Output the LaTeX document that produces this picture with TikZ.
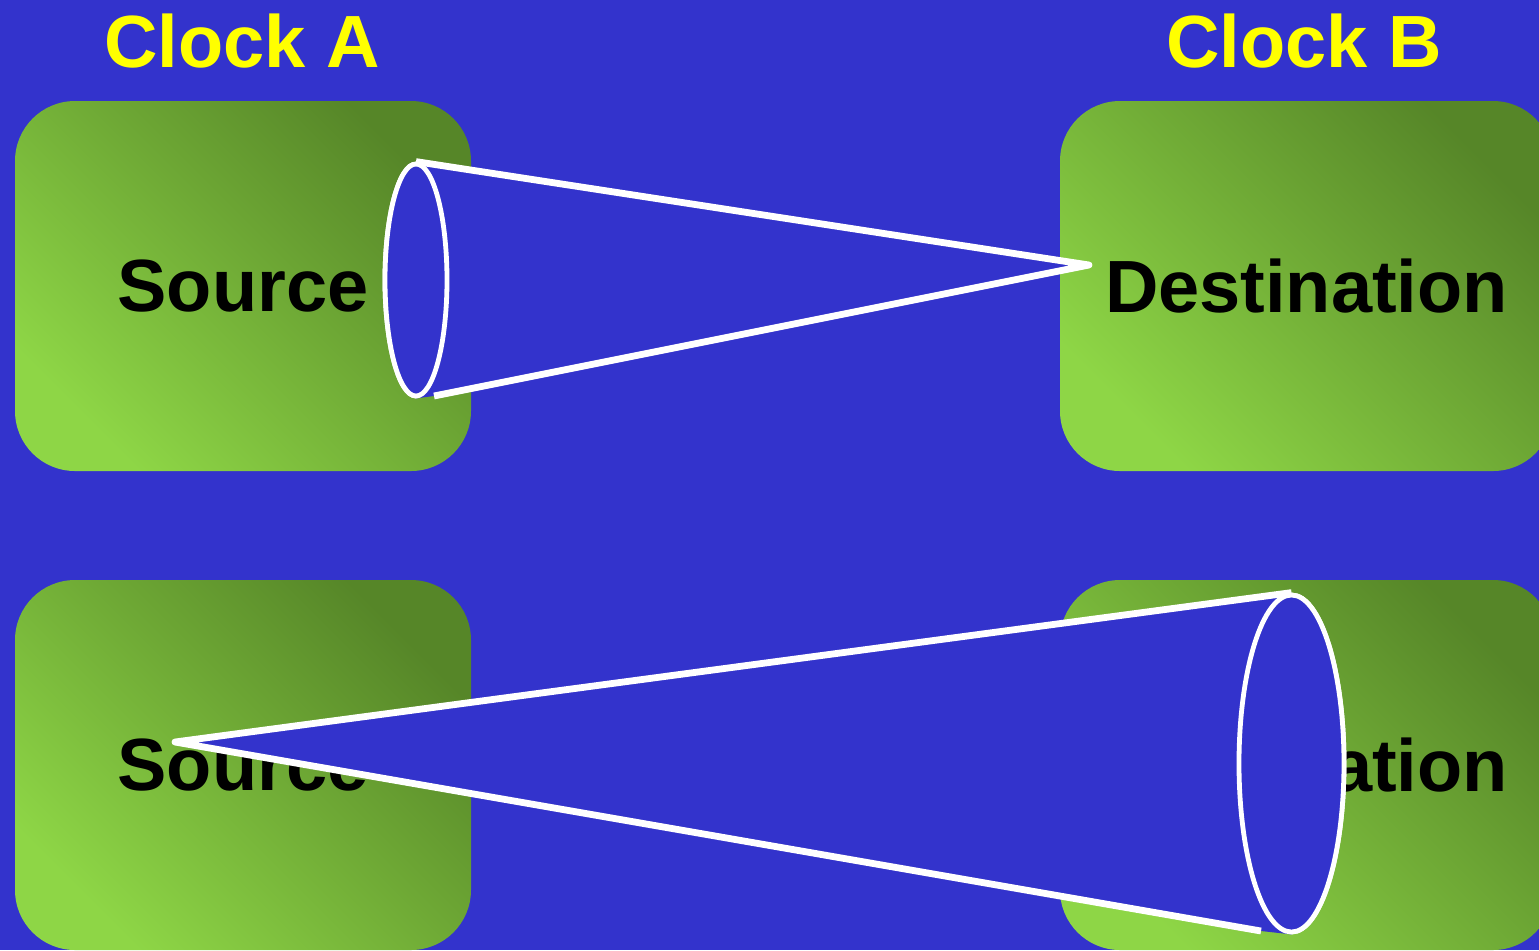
\documentclass[tikz,border=0pt]{standalone}
\usepackage{fontspec}
\setmainfont{Liberation Sans}
\usetikzlibrary{shapes.geometric}
\definecolor{bg}{RGB}{51,51,204}
\definecolor{gdark}{RGB}{86,134,40}
\definecolor{glight}{RGB}{142,214,70}
\definecolor{clk}{RGB}{255,255,0}
\begin{document}
\begin{tikzpicture}[x=0.5pt,y=-0.5pt,
  box/.style={rectangle, rounded corners=30pt, minimum height=185pt, inner sep=0pt,
    top color=gdark, bottom color=glight, shading angle=-45,
    font=\fontsize{37}{40}\selectfont\bfseries, text=black},
  clock/.style={anchor=base, inner sep=0pt, text=clk, font=\fontsize{37}{40}\selectfont\bfseries},
  rim/.style={ellipse, draw=white, line width=2.4pt, fill=bg, inner sep=0pt},
  ray/.style={draw=white, line width=3.4pt, line join=round, line cap=butt}]
\fill[bg] (0,0) rectangle (1539,950);
\useasboundingbox (0,0) rectangle (1539,950);

\node[clock] (clka) at (242,67) {Clock A};
\node[clock] (clkb) at (1304,67) {Clock B};

\node[box, minimum width=228pt] (srcA) at (243,286) {Source};
\node[box, minimum width=246.5pt] (dstA) at (1306.5,286) {Destination};
\node[box, minimum width=228pt] (srcB) at (243,765) {Source};
\node[box, minimum width=246.5pt] (dstB) at (1306.5,765) {Destination};

% cone 1
\coordinate (apex1) at (1089,265);
\coordinate (end1) at (434,396);
\node[rim, minimum width=31pt, minimum height=116pt] (e1) at (416,280) {};
\fill[bg] (e1.north) -- (apex1) -- (end1) -- (e1.south) -- cycle;
\draw[ray] (e1.north) -- (apex1) -- (end1);
\node[rim, minimum width=31pt, minimum height=116pt] at (e1.center) {};

% cone 2
\coordinate (apex2) at (175,742);
\coordinate (end2) at (1261,931);
\node[rim, minimum width=52.5pt, minimum height=168.5pt] (e2) at (1291.5,763.5) {};
\fill[bg] (e2.north) -- (apex2) -- (end2) -- (e2.south) -- cycle;
\draw[ray] (e2.north) -- (apex2) -- (end2);
\node[rim, minimum width=52.5pt, minimum height=168.5pt] at (e2.center) {};
\end{tikzpicture}
\end{document}
